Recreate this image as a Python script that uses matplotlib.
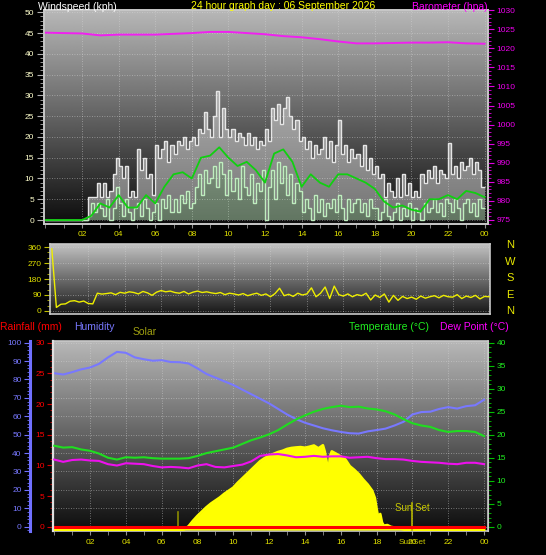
import matplotlib

matplotlib.use("Agg")
import matplotlib.pyplot as plt
import numpy as np
from matplotlib.ticker import FixedLocator, MultipleLocator

plt.rcParams["font.family"] = ["Liberation Sans", "DejaVu Sans"]

# ---------------- data ----------------
title = "24 hour graph day : 06 September 2026"
hour_ticks = [2, 4, 6, 8, 10, 12, 14, 16, 18, 20, 22, 24]
hour_labels = ["02", "04", "06", "08", "10", "12", "14", "16", "18", "20", "22", "00"]

# wind, 10 minute samples (kph)
wind_edges = np.arange(0, 24.01, 1 / 6)
wind_gust = [
    0, 0, 0, 0, 0, 0,
    0, 0, 0, 0, 0, 0,
    0, 0, 5.5, 5.5, 5.5, 9,
    5.5, 9, 5.5, 7, 11, 15,
    13, 10, 13, 5.5, 7, 5.5,
    17, 12, 15, 10, 11, 6,
    18, 15, 17, 19, 14, 18,
    16, 19, 18, 20, 17, 19,
    20, 18, 22, 21, 26, 22,
    20, 25, 31, 20, 27, 22,
    20, 22, 19, 21, 20, 18,
    21, 18, 20, 17, 19, 18,
    22, 19, 27, 24, 28, 23,
    27, 29.5, 25, 22, 24, 19,
    20, 17, 19, 15, 18, 16,
    17, 20, 15, 19, 14, 18,
    24, 16, 18, 14, 17, 15,
    16, 13, 18, 12, 15, 11,
    13, 10, 11, 5.5, 9, 7,
    5.5, 10, 5.5, 11, 6, 9,
    5.5, 7, 5.5, 11, 9, 12,
    10, 13, 9, 12, 11, 10,
    18.5, 11, 13, 10, 14, 12,
    13, 15, 11, 14, 12, 8,
]
wind_avg = [
    0, 0, 0, 0, 0, 0,
    0, 0, 0, 0, 0, 0,
    0, 0, 1, 4, 2, 4,
    3, 1, 5, 0, 3, 8,
    4, 1, 5, 2, 0, 3,
    4, 1, 5, 3, 0, 2,
    4, 0, 5, 3, 6, 2,
    5, 2, 6, 4, 7, 3,
    4, 8, 11, 6, 12, 9,
    10, 13, 8, 14, 11, 6,
    12, 7, 10, 5, 13, 8,
    6, 11, 4, 9, 7, 12,
    0, 8, 12, 5, 14, 9,
    13, 6, 11, 4, 9, 7,
    2, 5, 3, 0, 6, 2,
    5, 1, 4, 3, 5, 2,
    6, 3, 0, 5, 2, 4,
    5, 2, 4, 1, 5, 3,
    3, 0, 2, 5, 1, 0,
    2, 4, 0, 3, 1, 4,
    0, 3, 2, 0, 4, 2,
    3, 5, 2, 4, 1, 5,
    4, 2, 5, 3, 0, 4,
    5, 2, 4, 1, 5, 3,
]

# half-hourly series
half_hours = np.arange(0, 24.01, 0.5)
wind_running = [0, 0, 0, 0, 0, 1, 4, 3, 6, 3, 3, 6, 4, 8, 11, 11.5, 10, 15, 15.5, 17.5,
                15, 13, 14, 12, 9, 16, 17, 14, 8, 11, 9, 8, 11, 11, 10, 9, 7.5, 4.5, 3, 3.5,
                2.5, 2, 5, 5, 6, 5, 7, 6.5, 5.5]
temperature = [17.6, 17.2, 17.3, 16.8, 16.5, 15.9, 15.0, 14.6, 15.1, 15.0, 15.1, 14.9, 14.8,
               14.8, 14.8, 14.9, 15.4, 16.0, 16.4, 16.8, 17.2, 18.0, 18.8, 19.4, 20.1, 21.0,
               22.2, 23.3, 24.2, 25.0, 25.6, 26.0, 26.3, 26.0, 26.1, 25.7, 25.5, 25.1, 24.4,
               23.4, 22.5, 22.0, 21.7, 21.0, 20.6, 20.8, 20.8, 20.6, 19.7]
dew_point = [14.6, 14.1, 14.5, 14.6, 14.4, 14.3, 13.6, 13.3, 13.8, 13.7, 13.6, 13.2, 12.9,
             13.0, 12.9, 12.7, 13.3, 13.6, 13.0, 12.9, 13.2, 13.5, 14.2, 15.4, 15.7, 15.8,
             15.5, 15.1, 15.2, 15.4, 15.2, 15.3, 15.3, 15.0, 15.1, 15.2, 14.9, 14.7, 14.7,
             14.6, 14.3, 14.1, 14.0, 13.9, 13.7, 13.6, 13.9, 13.9, 13.6]
humidity = [83.4, 82.7, 84.0, 85.5, 86.5, 88.5, 92.0, 95.0, 94.5, 92.0, 91.0, 90.2, 90.5,
            89.5, 89.4, 88.7, 86.0, 83.0, 81.0, 79.0, 77.0, 74.5, 72.0, 69.5, 67.0, 64.0,
            61.0, 58.5, 56.5, 55.0, 53.5, 52.4, 51.5, 50.8, 50.6, 51.8, 52.5, 53.3, 55.0,
            57.0, 61.0, 62.3, 62.5, 64.0, 65.0, 64.2, 65.5, 66.0, 69.0]

# hourly series
hours = np.arange(0, 25)
barometer = [1024.1, 1024.0, 1023.9, 1023.4, 1023.6, 1023.6, 1023.6, 1023.8, 1024.0, 1024.3,
             1024.3, 1024.0, 1023.7, 1023.2, 1022.9, 1022.4, 1021.8, 1021.3, 1021.3, 1021.4,
             1021.5, 1021.5, 1021.6, 1021.3, 1021.2]
rainfall = [0] * 25

# wind direction, 15 minute samples (degrees)
dir_hours = np.arange(0, 24.01, 0.25)
wind_dir = [350, 20, 38, 40, 55, 58, 50, 56, 42, 40, 100, 95, 98, 102, 92, 105,
            100, 108, 104, 96, 110, 102, 88, 106, 115, 108, 112, 104, 100, 110, 96, 106,
            112, 104, 108, 102, 98, 104, 92, 100, 96, 90, 98, 86, 94, 100, 88, 96,
            80, 98, 128, 86, 94, 82, 100, 90, 96, 130, 80, 100, 135, 70, 140, 92,
            84, 96, 80, 92, 86, 100, 62, 90, 76, 96, 50, 88, 60, 82, 70, 78,
            66, 84, 72, 80, 86, 74, 88, 80, 78, 92, 70, 84, 76, 88, 68, 82, 80]

# solar radiation (W/m2)
solar_hours = [0.0, 7.0, 7.25, 7.5, 7.75, 8.0, 8.25, 8.5, 8.75, 9.0, 9.25, 9.5, 9.75, 10.0,
               10.25, 10.5, 10.75, 11.0, 11.25, 11.5, 11.75, 12.0, 12.25, 12.5, 12.75, 13.0,
               13.25, 13.5, 13.75, 14.0, 14.25, 14.5, 14.75, 15.0, 15.1, 15.2, 15.3, 15.4,
               15.5, 15.75, 16.0, 16.25, 16.5, 16.75, 17.0, 17.25, 17.5, 17.75, 17.9, 18.0,
               18.1, 18.2, 18.3, 18.4, 18.6, 18.8, 19.0, 19.2, 19.4, 19.6, 24.0]
solar = [0, 0, 5, 30, 75, 115, 150, 185, 215, 240, 265, 295, 320, 345, 385, 420, 455, 490,
         525, 560, 585, 605, 620, 635, 645, 660, 668, 672, 675, 670, 678, 688, 665, 690, 640,
         560, 450, 600, 640, 620, 598, 575, 520, 490, 455, 410, 370, 320, 260, 170, 90, 130,
         60, 35, 40, 25, 20, 15, 10, 0, 0]
sunrise_h = 6.92
sunset_h = 19.97

# ---------------- layout helpers ----------------
W, H = 546, 555
FRAME = "#c8c8c8"


def box(left, top, right, bottom):
    return [left / W, 1 - bottom / H, (right - left) / W, (bottom - top) / H]


def shade(ax, top, bottom):
    g = np.linspace(top, bottom, 256).reshape(-1, 1)
    ax.imshow(g, extent=(0, 1, 0, 1), transform=ax.transAxes, cmap="gray",
              vmin=0, vmax=1, aspect="auto", zorder=0, interpolation="bilinear")


def grid(ax):
    ax.grid(True, which="major", color="#d8d8d8", linestyle=(0, (1, 2)), linewidth=0.6, alpha=0.6)


def frame(ax, color=FRAME):
    for s in ax.spines.values():
        s.set_color(color)
        s.set_linewidth(1.2)


fig = plt.figure(figsize=(W / 100, H / 100), dpi=100, facecolor="black")

# ---------------- wind / barometer ----------------
ax1 = fig.add_axes(box(44, 10, 488, 224))
shade(ax1, 0.72, 0.05)
# gust band and average band, then their outlines
ax1.stairs(wind_gust, wind_edges, baseline=wind_avg, fill=True, color="#f0f0f0", alpha=0.45,
           linewidth=0, zorder=2)
ax1.stairs(wind_avg, wind_edges, baseline=0, fill=True, color="#c8f4c8", alpha=0.45,
           linewidth=0, zorder=2)
ax1.stairs(wind_gust, wind_edges, baseline=None, color="#e6e6e6", linewidth=1.0, zorder=3)
ax1.stairs(wind_avg, wind_edges, baseline=None, color="#bfeebf", linewidth=1.0, zorder=4)
ax1.plot(half_hours, wind_running, color="#10d010", linewidth=1.3, zorder=5)
ax1.set_xlim(-0.08, 24.19)
ax1.set_ylim(-0.96, 50.55)
ax1.yaxis.set_major_locator(MultipleLocator(5))
ax1.yaxis.set_minor_locator(MultipleLocator(1))
ax1.xaxis.set_major_locator(FixedLocator(hour_ticks))
ax1.xaxis.set_minor_locator(MultipleLocator(1))
ax1.set_xticklabels(hour_labels)
ax1.tick_params(axis="y", which="major", length=5, color="#b0b0b0", labelcolor="#ffffcc",
                labelsize=6, pad=2)
ax1.tick_params(axis="y", which="minor", length=3, color="#b0b0b0")
ax1.tick_params(axis="x", which="both", length=3, color="#909090", labelcolor="#e0e000",
                labelsize=6, pad=2)
grid(ax1)
frame(ax1)

ax1b = ax1.twinx()
ax1b.plot(hours, barometer, color="#f020f0", linewidth=1.4)
ax1b.set_ylim(973.95, 1030.05)
ax1b.yaxis.set_major_locator(MultipleLocator(5))
ax1b.yaxis.set_minor_locator(MultipleLocator(1))
ax1b.tick_params(axis="y", which="major", length=4, color="#e000e0", labelcolor="#f000f0",
                 labelsize=6, pad=2)
ax1b.tick_params(axis="y", which="minor", length=2, color="#e000e0")
frame(ax1b)

fig.text(38 / W, 1 - 7 / H, "Windspeed (kph)", color="white", fontsize=7.5, va="center")
fig.text(283 / W, 1 - 6 / H, title, color="#ffff00", fontsize=7.5, ha="center", va="center")
fig.text(488 / W, 1 - 7 / H, "Barometer (hpa)", color="#ff00ff", fontsize=7.5, ha="right",
         va="center")

# ---------------- wind direction ----------------
ax2 = fig.add_axes(box(50, 244, 490, 314))
shade(ax2, 0.76, 0.09)
ax2.plot(dir_hours, wind_dir, color="#eeee00", linewidth=1.0, zorder=3)
ax2.set_xlim(-0.1, 24.05)
ax2.set_ylim(-17, 377)
ax2.yaxis.set_major_locator(MultipleLocator(90))
ax2.yaxis.set_minor_locator(MultipleLocator(30))
ax2.xaxis.set_major_locator(FixedLocator(hour_ticks))
ax2.tick_params(axis="y", which="major", length=4, color="#c0c000", labelcolor="#e0e000",
                labelsize=6, pad=2)
ax2.tick_params(axis="y", which="minor", length=2, color="#c0c000")
ax2.tick_params(axis="x", which="both", length=0, labelbottom=False)
grid(ax2)
frame(ax2)

for letter, py in zip(["N", "W", "S", "E", "N"], [245, 262, 278, 295, 311]):
    fig.text(510 / W, 1 - py / H, letter, color="#e8e800", fontsize=8, ha="center", va="center")

# ---------------- humidity / rain / solar / temperature ----------------
ax3 = fig.add_axes(box(53, 341, 488, 531))
shade(ax3, 0.72, 0.05)
ax3.plot(half_hours, humidity, color="#7878ff", linewidth=1.5, zorder=3)
ax3.set_xlim(-0.07, 24.22)
ax3.set_ylim(-2.34, 100.92)
ax3.yaxis.set_major_locator(MultipleLocator(10))
ax3.yaxis.set_minor_locator(MultipleLocator(2))
ax3.xaxis.set_major_locator(FixedLocator(hour_ticks))
ax3.xaxis.set_minor_locator(MultipleLocator(1))
ax3.set_xticklabels(hour_labels)
ax3.tick_params(axis="x", which="both", length=3, color="#909090", labelcolor="#e0e000",
                labelsize=6, pad=3)
ax3.tick_params(axis="y", which="major", length=4, color="#7070ff", labelcolor="#7878ff",
                labelsize=6, pad=2)
ax3.tick_params(axis="y", which="minor", length=2, color="#7070ff")
grid(ax3)
frame(ax3)
ax3.spines["left"].set_position(("axes", -23 / 435))
ax3.spines["left"].set_color("#7070ff")
ax3.spines["left"].set_linewidth(2.2)

# solar (hidden scale, its zero sits just under the rain line)
axS = ax3.twinx()
axS.fill_between(solar_hours, solar, color="#ffff00", linewidth=0)
axS.plot(solar_hours, solar, color="#ffff00", linewidth=2.0)
axS.set_ylim(-8.0, 1540.0)
axS.set_yticks([])
for s in axS.spines.values():
    s.set_visible(False)
axS.axvline(sunrise_h, ymin=4 / 190, ymax=19 / 190, color="#8c8c00", linewidth=1.2)
axS.axvline(sunset_h, ymin=1 / 190, ymax=28 / 190, color="#b4b400", linewidth=1.2)
axS.text(sunset_h, 23 / 190, "Sun Set", transform=axS.get_xaxis_transform(), color="#c8c800",
         fontsize=7, ha="center", va="center")
axS.text(sunset_h, -12 / 190, "SunSet", transform=axS.get_xaxis_transform(), color="#c8c800",
         fontsize=6, ha="center", va="center")

# rainfall
axR = ax3.twinx()
axR.plot(hours, rainfall, color="#ff0000", linewidth=2.2)
axR.set_ylim(-0.70, 30.28)
axR.yaxis.tick_left()
axR.yaxis.set_major_locator(MultipleLocator(5))
axR.yaxis.set_minor_locator(MultipleLocator(1))
axR.tick_params(axis="y", which="major", length=4, color="#d00000", labelcolor="#ff0000",
                labelsize=6, pad=2)
axR.tick_params(axis="y", which="minor", length=2, color="#d00000")
for name, s in axR.spines.items():
    s.set_visible(name == "left")
axR.spines["left"].set_color("#e0e0e0")
axR.spines["left"].set_linewidth(1.6)

# temperature / dew point
axT = ax3.twinx()
axT.plot(half_hours, temperature, color="#20dd20", linewidth=1.5)
axT.plot(half_hours, dew_point, color="#ee10ee", linewidth=1.5)
axT.set_ylim(-0.93, 40.37)
axT.yaxis.set_major_locator(MultipleLocator(5))
axT.yaxis.set_minor_locator(MultipleLocator(1))
axT.tick_params(axis="y", which="major", length=4, color="#00c000", labelcolor="#20ee20",
                labelsize=6, pad=2)
axT.tick_params(axis="y", which="minor", length=2, color="#00c000")
for name, s in axT.spines.items():
    s.set_visible(name == "right")
axT.spines["right"].set_color(FRAME)

fig.text(0 / W, 1 - 327 / H, "Rainfall (mm)", color="#ff0000", fontsize=7.5, va="center")
fig.text(74 / W, 1 - 327 / H, "Humidity", color="#7878ff", fontsize=7.5, va="center")
fig.text(133 / W, 1 - 332 / H, "Solar", color="#a0a010", fontsize=7.5, va="center")
fig.text(349 / W, 1 - 327 / H, "Temperature (\u00b0C)", color="#20ee20", fontsize=7.5,
         va="center")
fig.text(440 / W, 1 - 327 / H, "Dew Point (\u00b0C)", color="#ff00ff", fontsize=7.5,
         va="center")

fig.savefig("out.png", dpi=100, facecolor="black")
